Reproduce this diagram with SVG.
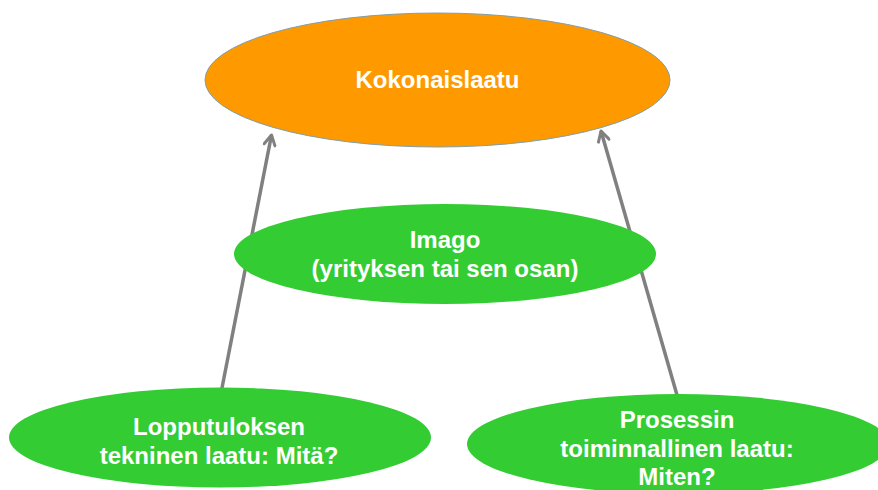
<svg xmlns="http://www.w3.org/2000/svg" width="878" height="490" viewBox="0 0 878 490">
  <defs>
    <style>
      .lbl { font-family: "Liberation Sans", Arial, sans-serif; font-weight: bold; font-size: 24px; fill: #ffffff; text-anchor: middle; }
      .green { fill: #33cc33; }
      .conn { stroke: #808080; stroke-width: 3.5; fill: none; }
    </style>
    <marker id="arrow" viewBox="0 0 14 14" refX="12" refY="7" markerWidth="14" markerHeight="14" markerUnits="userSpaceOnUse" orient="auto">
      <path d="M2,1.5 L12,7 L2,12.5" fill="none" stroke="#808080" stroke-width="3" stroke-linecap="round" stroke-linejoin="round"/>
    </marker>
  </defs>
  <rect width="878" height="490" fill="#ffffff"/>

  <!-- top node -->
  <g id="kokonaislaatu">
    <ellipse cx="437.5" cy="80" rx="232.5" ry="67" fill="#ff9900" stroke="#7f9fae" stroke-width="1"/>
    <text class="lbl" x="437.5" y="88">Kokonaislaatu</text>
  </g>

  <!-- connectors (under the middle node) -->
  <g id="connectors">
    <line class="conn" x1="221" y1="393" x2="271.5" y2="135" marker-end="url(#arrow)"/>
    <line class="conn" x1="677" y1="395" x2="601" y2="131" marker-end="url(#arrow)"/>
  </g>

  <g id="imago">
    <ellipse class="green" cx="445" cy="254" rx="211" ry="50"/>
    <text class="lbl" x="445" y="248">Imago</text>
    <text class="lbl" x="445" y="276.5">(yrityksen tai sen osan)</text>
  </g>

  <g id="lopputulos">
    <ellipse class="green" cx="220" cy="437.5" rx="211" ry="50"/>
    <text class="lbl" x="219" y="435">Lopputuloksen</text>
    <text class="lbl" x="219" y="463.5">tekninen laatu: Mitä?</text>
  </g>

  <g id="prosessi">
    <ellipse class="green" cx="678" cy="444" rx="211" ry="50"/>
    <text class="lbl" x="677" y="428">Prosessin</text>
    <text class="lbl" x="677" y="456.5">toiminnallinen laatu:</text>
    <text class="lbl" x="677" y="484.5">Miten?</text>
  </g>
</svg>
